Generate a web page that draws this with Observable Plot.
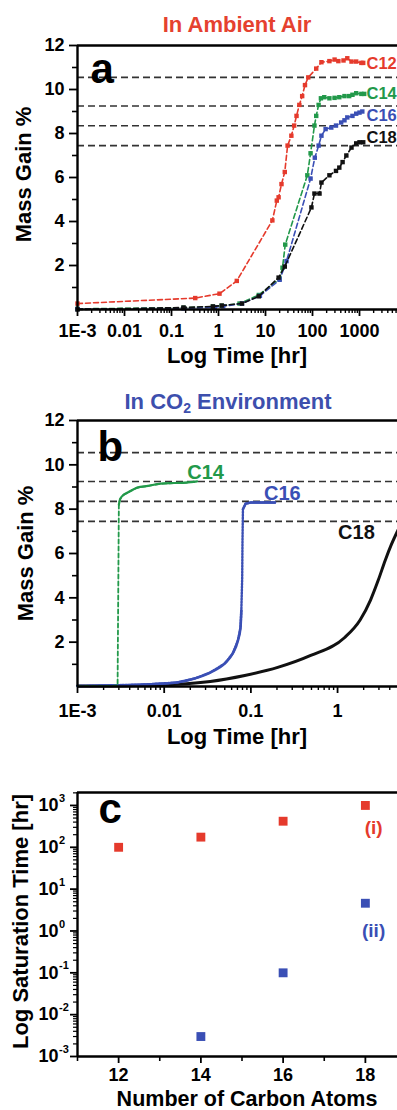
<!DOCTYPE html>
<html><head><meta charset="utf-8">
<script src="https://cdn.jsdelivr.net/npm/d3@7"></script>
<script src="https://cdn.jsdelivr.net/npm/@observablehq/plot@0.6"></script>
<style>
html,body{margin:0;padding:0;overflow:hidden;background:#fff;}
#root{position:relative;width:397px;height:1110px;overflow:hidden;font-family:"Liberation Sans",Arial,Helvetica,sans-serif;font-weight:bold;}
#root svg{position:absolute;left:0;max-width:none !important;}
.title{position:absolute;font-size:22px;font-weight:bold;white-space:nowrap;transform:translate(-50%,-50%);line-height:1;}
.title sub{font-size:14px;vertical-align:-4px;line-height:0;}
</style></head><body><div id="root"></div>
<script>
// ---------------- data ----------------
const colors = {C12: "#e53a2c", C14: "#22994a", C16: "#3a4fb5", C18: "#111111"};

// Panel a: ambient air, [time (hr), mass gain %]
const airC12 = [[0.001,0.27],[0.32,0.52],[1.05,0.72],[2.45,1.3],[14,4.05],[17.4,4.95],[19,5.1],[21.9,5.7],[25.7,6.25],[29.5,7.45],[35.5,7.9],[40.7,8.36],[45.7,8.8],[52.5,9.3],[60.3,9.7],[69.2,10.2],[81.3,10.55],[120,10.95],[155,11.24],[229,11.29],[295,11.36],[355,11.29],[457,11.32],[550,11.42],[676,11.27],[851,11.27],[1096,11.21],[1200,11.21]];
const airC14 = [[0.001,0.03],[0.18,0.08],[0.76,0.13],[1.17,0.17],[2.8,0.27],[7.2,0.66],[20,1.4],[23,1.9],[26.3,2.95],[77.6,6.1],[91,7.1],[110,8.36],[120,8.8],[135,9.3],[151,9.6],[178,9.65],[229,9.6],[295,9.62],[372,9.65],[479,9.7],[603,9.7],[708,9.76],[851,9.83],[1096,9.8],[1259,9.8]];
const airC16 = [[0.001,0.02],[0.18,0.05],[0.83,0.1],[1.26,0.15],[3.16,0.27],[7.6,0.62],[20,1.35],[28,2.2],[91,5.95],[112,6.9],[135,7.45],[155,7.9],[190,8.2],[251,8.27],[316,8.36],[407,8.5],[479,8.6],[550,8.73],[708,8.8],[851,8.9],[1000,8.95],[1148,9.0]];
const airC18 = [[0.001,0.0],[0.18,0.09],[0.76,0.14],[1.17,0.18],[3.16,0.27],[7.2,0.6],[19,1.45],[25.7,1.95],[95,4.64],[110,5.27],[141,5.27],[155,5.77],[229,6.1],[316,6.3],[372,6.45],[437,6.7],[525,7.0],[676,7.36],[851,7.55],[1000,7.6],[1200,7.6]];

// Panel b: CO2 environment, [time (hr), mass gain %]
const co2C14 = [[0.001,0.02],[0.0025,0.03],[0.0029,0.05],[0.003,8.2],[0.0031,8.45],[0.0033,8.6],[0.0038,8.75],[0.0049,8.97],[0.0065,9.05],[0.0091,9.15],[0.013,9.18],[0.018,9.2],[0.024,9.25]];
const co2C16 = [[0.001,0.02],[0.0059,0.09],[0.014,0.18],[0.0224,0.36],[0.0339,0.63],[0.05,1.04],[0.0617,1.49],[0.0708,2.07],[0.0759,2.66],[0.0776,3.43],[0.0794,4.9],[0.08,6.5],[0.081,8.0],[0.087,8.25],[0.1,8.3],[0.19,8.3]];
const co2C18 = [[0.001,0.02],[0.005,0.05],[0.014,0.1],[0.034,0.23],[0.085,0.5],[0.204,0.86],[0.49,1.4],[1.2,2.2],[1.82,3.0],[2.4,3.9],[2.95,4.8],[3.55,5.7],[4.17,6.4],[4.9,7.0],[5.5,7.4]];

// theoretical saturation levels (dashed)
const refLevels = [10.55, 9.25, 8.35, 7.45];

// Panel c: saturation time vs carbon atoms
const carbonAtoms = [12, 14, 16, 18];
const satTimeAir = [100, 175, 420, 1000];
const satTimeCO2 = [null, 0.003, 0.1, 4.6];

// tick labels
const aTickValues = [1e-3, 1e-2, 1e-1, 1, 10, 100, 1000];
const aTickLabels = ["1E-3", "0.01", "0.1", "1", "10", "100", "1000"];
const bTickValues = [1e-3, 1e-2, 1e-1, 1];
const bTickLabels = ["1E-3", "0.01", "0.1", "1"];
const massTicks = [2, 4, 6, 8, 10, 12];
const massMinor = [1, 3, 5, 7, 9, 11];
const cXTicks = [12, 14, 16, 18];
const cXMinor = [11, 13, 15, 17, 19];
const cYDecades = [1e-3, 1e-2, 1e-1, 1, 10, 100, 1000];
const cYExponents = ["-3", "-2", "-1", "0", "1", "2", "3"];

// curve annotations
const airLabelNames = ["C12", "C14", "C16", "C18"];
const airLabelT = [1410, 1410, 1410, 1410];
const airLabelM = [11.18, 9.82, 8.82, 7.82];
const co2LabelNames = ["C14", "C16", "C18"];
const co2LabelT = [0.030, 0.231, 1.65];
const co2LabelM = [9.65, 8.7, 6.95];

// ---------------- chart ----------------
const FONT = '"Liberation Sans", Arial, Helvetica, sans-serif';
const baseStyle = {fontFamily: FONT, fontWeight: "bold", fontSize: "18px", color: "#000", background: "transparent", overflow: "visible", maxWidth: "none"};
const W = 420, ML = 77, MR = 14;
function minorLog(lo, hi, max) {
  const out = [];
  for (let e = lo; e < hi; e++) for (let k = 2; k <= 9; k++) { const v = k * Math.pow(10, e); if (max == null || v <= max) out.push(v); }
  return out;
}
const X = d => d[0], Y = d => d[1];
const root = document.getElementById("root");
function place(svg, top) { svg.style.top = top + "px"; svg.style.maxWidth = "none"; svg.style.width = W + "px"; root.appendChild(svg); }

// ----- panel a -----
const airSeries = [["C12", airC12], ["C14", airC14], ["C16", airC16], ["C18", airC18]];
const plotA = Plot.plot({
  width: W, height: 379, marginTop: 45, marginBottom: 70, marginLeft: ML, marginRight: MR,
  x: {type: "log", domain: [1e-3, 1e4]},
  y: {domain: [0, 12]},
  style: baseStyle,
  marks: [
    Plot.ruleY(refLevels, {stroke: "#333", strokeWidth: 1.6, strokeDasharray: "7,4"}),
    ...airSeries.flatMap(([s, arr]) => [
      Plot.line(arr, {x: X, y: Y, stroke: colors[s], strokeWidth: 1.6, strokeDasharray: "5,3"}),
      Plot.dot(arr, {x: X, y: Y, symbol: "square", r: 2.5, fill: colors[s]})
    ]),
    ...airLabelNames.map((n, i) => Plot.text([n], {x: [airLabelT[i]], y: [airLabelM[i]], textAnchor: "start", fill: colors[n], fontSize: 16.5})),
    Plot.text(["a"], {frameAnchor: "top-left", dx: 13, dy: 37, lineAnchor: "bottom", fontSize: 42, fill: "#000"}),
    Plot.axisX({ticks: aTickValues, tickSize: 7, tickPadding: 8, strokeWidth: 1.8, tickFormat: d => aTickLabels[aTickValues.indexOf(d)], label: null}),
    Plot.axisX({ticks: minorLog(-3, 4), tickSize: 4, strokeWidth: 1.4, fill: "none", label: null}),
    Plot.axisY({ticks: massTicks, tickSize: 8, tickPadding: 5, strokeWidth: 1.8, label: null}),
    Plot.axisY({ticks: massMinor, tickSize: 5, strokeWidth: 1.6, fill: "none", label: null}),
    Plot.ruleX([1e-3], {strokeWidth: 2.4}),
    Plot.ruleY([0], {strokeWidth: 2.4}),
    Plot.ruleY([12], {strokeWidth: 2.4}),
    Plot.text(["Log Time [hr]"], {frameAnchor: "bottom", lineAnchor: "bottom", dy: 53, dx: -5, fontSize: 22}),
    Plot.text(["Mass Gain %"], {frameAnchor: "left", textAnchor: "middle", lineAnchor: "top", rotate: -90, dx: -62, dy: -3, fontSize: 22})
  ]
});
place(plotA, 0);

// ----- panel b -----
const plotB = Plot.plot({
  width: W, height: 367, marginTop: 41, marginBottom: 60, marginLeft: ML, marginRight: MR,
  x: {type: "log", domain: [1e-3, 6.24]},
  y: {domain: [0, 12]},
  style: baseStyle,
  marks: [
    Plot.ruleY(refLevels, {stroke: "#333", strokeWidth: 1.6, strokeDasharray: "7,4"}),
    Plot.line(co2C18, {x: X, y: Y, stroke: colors.C18, strokeWidth: 3, curve: "monotone-x"}),
    Plot.line(co2C16, {x: X, y: Y, stroke: colors.C16, strokeWidth: 2.4, strokeDasharray: "1.6,1.4"}),
    Plot.line(co2C16.filter(d => d[1] <= 3.5), {x: X, y: Y, stroke: colors.C16, strokeWidth: 2.6, curve: "monotone-x"}),
    Plot.line(co2C16.filter(d => d[1] >= 8.0), {x: X, y: Y, stroke: colors.C16, strokeWidth: 2.4}),
    Plot.line(co2C14, {x: X, y: Y, stroke: colors.C14, strokeWidth: 1.8, strokeDasharray: "4,3"}),
    Plot.line(co2C14.filter(d => d[1] >= 8.2), {x: X, y: Y, stroke: colors.C14, strokeWidth: 2.2, curve: "monotone-x"}),
    ...co2LabelNames.map((n, i) => Plot.text([n], {x: [co2LabelT[i]], y: [co2LabelM[i]], fill: colors[n], fontSize: 20})),
    Plot.text(["b"], {frameAnchor: "top-left", dx: 20, dy: 40, lineAnchor: "bottom", fontSize: 42, fill: "#000"}),
    Plot.axisX({ticks: bTickValues, tickSize: 7, tickPadding: 11, strokeWidth: 1.8, tickFormat: d => bTickLabels[bTickValues.indexOf(d)], label: null}),
    Plot.axisX({ticks: minorLog(-3, 1, 6.2), tickSize: 4, strokeWidth: 1.4, fill: "none", label: null}),
    Plot.axisY({ticks: massTicks, tickSize: 8, tickPadding: 5, strokeWidth: 1.8, label: null}),
    Plot.axisY({ticks: massMinor, tickSize: 5, strokeWidth: 1.6, fill: "none", label: null}),
    Plot.ruleX([1e-3], {strokeWidth: 2.4}),
    Plot.ruleY([0], {strokeWidth: 2.4}),
    Plot.ruleY([12], {strokeWidth: 2.4}),
    Plot.text(["Log Time [hr]"], {frameAnchor: "bottom", lineAnchor: "bottom", dy: 57, dx: -5, fontSize: 22}),
    Plot.text(["Mass Gain %"], {frameAnchor: "left", textAnchor: "middle", lineAnchor: "top", rotate: -90, dx: -60, fontSize: 22})
  ]
});
place(plotB, 379);

// ----- panel c -----
const airPts = carbonAtoms.map((n, i) => ({n, t: satTimeAir[i]})).filter(d => d.t != null);
const co2Pts = carbonAtoms.map((n, i) => ({n, t: satTimeCO2[i]})).filter(d => d.t != null);
const plotC = Plot.plot({
  width: W, height: 364, marginTop: 46, marginBottom: 54, marginLeft: ML, marginRight: MR,
  x: {domain: [11, 19]},
  y: {type: "log", domain: [1e-3, 2040]},
  style: baseStyle,
  marks: [
    Plot.dot(airPts, {x: "n", y: "t", symbol: "square", r: 5, fill: colors.C12}),
    Plot.dot(co2Pts, {x: "n", y: "t", symbol: "square", r: 5, fill: colors.C16}),
    Plot.text(["(i)"], {x: [18.2], y: [295], fill: colors.C12, fontSize: 19}),
    Plot.text(["(ii)"], {x: [18.2], y: [1.0], fill: colors.C16, fontSize: 19}),
    Plot.text(["c"], {frameAnchor: "top-left", dx: 21, dy: 30, lineAnchor: "bottom", fontSize: 42, fill: "#000"}),
    Plot.axisX({ticks: cXTicks, tickSize: 7, tickPadding: 5, strokeWidth: 1.8, label: null}),
    Plot.axisX({ticks: cXMinor, tickSize: 5, strokeWidth: 1.6, fill: "none", label: null}),
    Plot.axisY({ticks: cYDecades, tickSize: 7, strokeWidth: 1.8, fill: "none", label: null}),
    Plot.axisY({ticks: minorLog(-3, 4, 2000), tickSize: 4, strokeWidth: 1.2, fill: "none", label: null}),
    Plot.text(cYDecades, {y: d => d, frameAnchor: "left", text: () => "10", dx: -19, textAnchor: "end", fontSize: 18}),
    Plot.text(cYDecades, {y: d => d, frameAnchor: "left", text: cYExponents, dx: -18.5, dy: -7, textAnchor: "start", fontSize: 11}),
    Plot.ruleX([11], {strokeWidth: 2.4}),
    Plot.ruleY([1e-3], {strokeWidth: 2.4}),
    Plot.ruleY([2040], {strokeWidth: 2.4}),
    Plot.text(["Number of Carbon Atoms"], {frameAnchor: "bottom", lineAnchor: "bottom", dy: 49, dx: 5, fontSize: 21.5}),
    Plot.text(["Log Saturation Time [hr]"], {frameAnchor: "left", textAnchor: "middle", lineAnchor: "top", rotate: -90, dx: -65, dy: -3, fontSize: 22})
  ]
});
place(plotC, 746);

// titles
const t1 = document.createElement("div");
t1.className = "title"; t1.style.left = "237px"; t1.style.top = "25px"; t1.style.color = "#e5412f";
t1.textContent = "In Ambient Air";
root.appendChild(t1);
const t2 = document.createElement("div");
t2.className = "title"; t2.style.left = "228px"; t2.style.top = "402px"; t2.style.color = "#3d4fad";
t2.innerHTML = "In CO<sub>2</sub> Environment";
root.appendChild(t2);
</script></body></html>
